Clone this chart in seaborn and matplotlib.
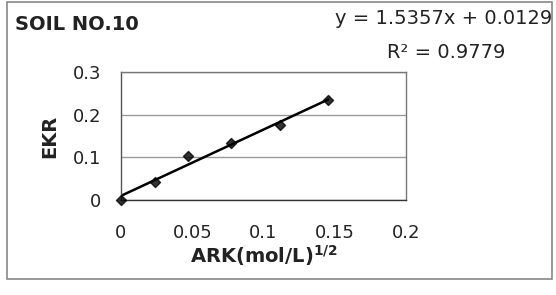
import numpy as np
import pandas as pd
import matplotlib
matplotlib.use("Agg")
import matplotlib.pyplot as plt
import seaborn as sns
from matplotlib.patches import Rectangle

# --- DATA ---
ark = [0.0, 0.0236, 0.0472, 0.0773, 0.1116, 0.1455]
ekr = [0.0, 0.042, 0.103, 0.134, 0.175, 0.234]
x_ticks = [0, 0.05, 0.1, 0.15, 0.2]
x_ticklabels = ["0", "0.05", "0.1", "0.15", "0.2"]
y_ticks = [0, 0.1, 0.2, 0.3]
y_ticklabels = ["0", "0.1", "0.2", "0.3"]
title = "SOIL NO.10"
equation = "y = 1.5357x + 0.0129"
r2_text = "R² = 0.9779"

df = pd.DataFrame({"ARK": ark, "EKR": ekr})

sns.set_theme(style="white")
plt.rcParams["font.family"] = ["DejaVu Sans"]
plt.rcParams["mathtext.fontset"] = "dejavusans"

fig = plt.figure(figsize=(5.56, 2.95), dpi=100)
ax = fig.add_axes([121 / 556, 1 - 200 / 295, 285 / 556, 128 / 295])

sns.regplot(data=df, x="ARK", y="EKR", ax=ax, ci=None, color="black",
            marker="D", scatter_kws=dict(s=26, zorder=3, clip_on=False),
            line_kws=dict(lw=1.8, color="black"))

ax.set_xlim(0, 0.2)
ax.set_ylim(0, 0.3)
ax.set_xticks(x_ticks)
ax.set_xticklabels(x_ticklabels)
ax.set_yticks(y_ticks)
ax.set_yticklabels(y_ticklabels)
ax.tick_params(axis="x", length=4, width=0.8, color="#555555", pad=13, labelsize=13, labelcolor="#222222")
ax.tick_params(axis="y", length=4, width=0.8, color="#555555", pad=10, labelsize=13, labelcolor="#222222")
ax.yaxis.grid(True, color="#999999", lw=1)
for s in ax.spines.values():
    s.set_color("#777777")
    s.set_linewidth(1)
ax.spines["bottom"].set_color("#333333")
ax.spines["left"].set_color("#555555")

ax.set_xlabel(r"ARK(mol/L)$^{\mathbf{1/2}}$", fontsize=14, fontweight="bold", labelpad=1, color="#222222")
ax.set_ylabel("EKR", fontsize=14, fontweight="bold", labelpad=10, color="#222222")

fig.text(15 / 556, 1 - 25 / 295, title, fontsize=14, fontweight="bold", va="center", ha="left", color="#222222")
fig.text(552 / 556, 1 - 19 / 295, equation, fontsize=14, va="center", ha="right", color="#222222")
fig.text(505 / 556, 1 - 52 / 295, r2_text, fontsize=14, va="center", ha="right", color="#222222")

fig.patches.append(Rectangle((7 / 556, 1 - 279 / 295), 545 / 556, 277 / 295,
                             transform=fig.transFigure, fill=False,
                             edgecolor="#888888", lw=1.2))

fig.savefig("out.png", dpi=100)
